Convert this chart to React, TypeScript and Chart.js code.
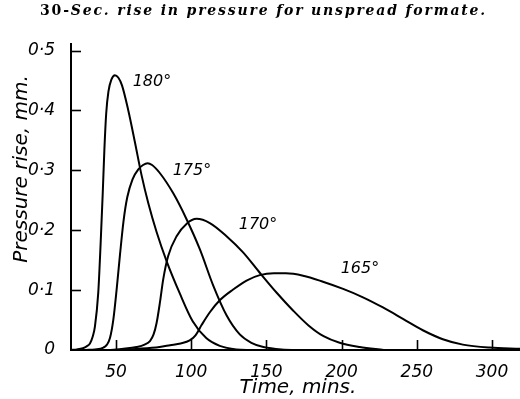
import React, { useEffect, useRef } from 'react';
import { Chart, registerables } from 'chart.js';

Chart.register(...registerables);

const TITLE_BOLD = '30-';
const TITLE_ITALIC = 'Sec. rise in pressure for unspread formate.';
const X_TITLE = 'Time, mins.';
const Y_TITLE = 'Pressure rise, mm.';

const xTickValues = [50, 100, 150, 200, 250, 300];
const xTickLabels = ['50', '100', '150', '200', '250', '300'];
const yTickValues = [0, 0.1, 0.2, 0.3, 0.4, 0.5];
const yTickLabels = ['0', '0·1', '0·2', '0·3', '0·4', '0·5'];

const seriesNames = ['180°', '175°', '170°', '165°'];

const t180 = [20, 24, 28, 30.5, 32.7, 34.5, 36, 38.2, 39.8, 41.2, 42.3, 43.5, 45, 47, 49.3, 51.5, 54, 58.2, 62.6, 67, 71.5, 77, 83.7, 92.5, 101, 110, 119, 130, 140];
const v180 = [0, 0.001, 0.003, 0.006, 0.011, 0.022, 0.039, 0.095, 0.178, 0.262, 0.335, 0.395, 0.432, 0.452, 0.459, 0.455, 0.442, 0.4, 0.347, 0.292, 0.245, 0.197, 0.148, 0.094, 0.048, 0.02, 0.007, 0.001, 0];

const t175 = [30, 36, 41.6, 44, 46, 48.2, 50.4, 52.7, 55, 57.5, 61, 65, 68, 71, 74, 79, 88, 97, 105.8, 114.6, 123.5, 132.3, 140, 148, 160, 175];
const v175 = [0, 0.001, 0.004, 0.009, 0.02, 0.05, 0.1, 0.16, 0.215, 0.255, 0.285, 0.302, 0.309, 0.312, 0.309, 0.296, 0.262, 0.218, 0.168, 0.108, 0.058, 0.026, 0.012, 0.005, 0.001, 0];

const t170 = [45, 55, 63.7, 69, 72.6, 75, 77, 79.2, 81.4, 84.7, 90.3, 97, 103.6, 112.4, 123.5, 134.5, 145.6, 156.7, 167.7, 178, 188, 198.7, 212, 228];
const v170 = [0, 0.002, 0.005, 0.009, 0.015, 0.026, 0.045, 0.079, 0.118, 0.157, 0.19, 0.211, 0.219, 0.212, 0.19, 0.163, 0.129, 0.096, 0.066, 0.041, 0.023, 0.012, 0.005, 0];

const t165 = [50, 65, 79, 86, 93, 99, 103, 107, 112.4, 119, 127.9, 136.8, 145.6, 155, 163, 174.4, 187.6, 201, 214.2, 227.5, 240.8, 254, 267.3, 280.6, 298.3, 318.6];
const v165 = [0, 0.002, 0.005, 0.008, 0.011, 0.016, 0.025, 0.042, 0.063, 0.083, 0.101, 0.116, 0.125, 0.128, 0.128, 0.124, 0.114, 0.102, 0.088, 0.071, 0.052, 0.033, 0.018, 0.009, 0.004, 0.002];

const labelT = [73.9, 100.5, 144.4, 212.2];
const labelV = [0.447, 0.299, 0.209, 0.135];

const seriesT = [t180, t175, t170, t165];
const seriesV = [v180, v175, v170, v165];

const decorPlugin = {
  id: 'decor',
  afterDraw(chart: any) {
    const { ctx, chartArea, scales } = chart;
    const xs = scales.x;
    const ys = scales.y;
    ctx.save();
    ctx.strokeStyle = '#000';
    ctx.fillStyle = '#000';
    ctx.lineWidth = 1.6;
    // inward tick marks
    yTickValues.forEach((v) => {
      if (v === 0) return;
      const y = Math.round(ys.getPixelForValue(v)) + 0.5;
      ctx.beginPath();
      ctx.moveTo(chartArea.left, y);
      ctx.lineTo(chartArea.left + 10, y);
      ctx.stroke();
    });
    xTickValues.forEach((v) => {
      const x = Math.round(xs.getPixelForValue(v)) + 0.5;
      ctx.beginPath();
      ctx.moveTo(x, chartArea.bottom);
      ctx.lineTo(x, chartArea.bottom - 10);
      ctx.stroke();
    });
    // curve labels
    ctx.font = 'italic 16px "DejaVu Sans"';
    ctx.textAlign = 'center';
    ctx.textBaseline = 'middle';
    seriesNames.forEach((n, i) => {
      ctx.fillText(n, xs.getPixelForValue(labelT[i]), ys.getPixelForValue(labelV[i]));
    });
    // y title
    ctx.save();
    ctx.translate(22, chartArea.top + 125);
    ctx.rotate(-Math.PI / 2);
    ctx.font = 'italic 20px "DejaVu Sans"';
    ctx.textAlign = 'center';
    ctx.textBaseline = 'middle';
    ctx.fillText(Y_TITLE, 0, 0);
    ctx.restore();
    // x title
    ctx.font = 'italic 20px "DejaVu Sans"';
    ctx.textAlign = 'center';
    ctx.textBaseline = 'middle';
    ctx.fillText(X_TITLE, 298, 388);
    // main title
    const fBold = 'bold 14px "DejaVu Serif"';
    const fItal = 'italic bold 14px "DejaVu Serif"';
    ctx.textAlign = 'left';
    ctx.textBaseline = 'alphabetic';
    ctx.font = fBold;
    const w1 = ctx.measureText(TITLE_BOLD).width;
    ctx.font = fItal;
    const w2 = ctx.measureText(TITLE_ITALIC).width;
    const n = TITLE_BOLD.length + TITLE_ITALIC.length;
    const targetW = 447;
    const hasLS = 'letterSpacing' in ctx;
    const spacing = hasLS ? Math.max(0, (targetW - w1 - w2) / n) : 0;
    const totalW = w1 + w2 + spacing * n;
    const startX = 263.5 - totalW / 2;
    if (hasLS) (ctx as any).letterSpacing = spacing + 'px';
    ctx.font = fBold;
    ctx.fillText(TITLE_BOLD, startX, 15);
    const adv1 = w1 + spacing * TITLE_BOLD.length;
    ctx.font = fItal;
    ctx.fillText(TITLE_ITALIC, startX + adv1, 15);
    if (hasLS) (ctx as any).letterSpacing = '0px';
    ctx.restore();
  },
};

export default function App() {
  const canvasRef = useRef<HTMLCanvasElement | null>(null);

  useEffect(() => {
    if (!canvasRef.current) return;
    const tickFont = { family: '"DejaVu Sans"', style: 'italic' as const, size: 17 };
    const chart = new Chart(canvasRef.current, {
      type: 'line',
      data: {
        datasets: seriesNames.map((name, i) => ({
          label: name,
          data: seriesT[i].map((t, j) => ({ x: t, y: seriesV[i][j] })),
          borderColor: '#000',
          backgroundColor: '#000',
          borderWidth: 2,
          pointRadius: 0,
          fill: false,
          cubicInterpolationMode: 'monotone' as const,
        })),
      },
      options: {
        responsive: false,
        animation: false,
        events: [],
        layout: { padding: { top: 44, left: 0, right: 0, bottom: 0 } },
        plugins: {
          legend: { display: false },
          tooltip: { enabled: false },
          title: { display: false },
        },
        scales: {
          x: {
            type: 'linear',
            min: 20.1,
            max: 318.6,
            grid: { display: false },
            border: { display: true, color: '#000', width: 2 },
            ticks: {
              font: tickFont,
              color: '#000',
              padding: 4,
              maxRotation: 0,
              autoSkip: false,
              callback: (v: any) => {
                const k = xTickValues.indexOf(Number(v));
                return k >= 0 ? xTickLabels[k] : '';
              },
            },
            afterBuildTicks: (s: any) => {
              s.ticks = xTickValues.map((v) => ({ value: v }));
            },
            afterFit: (s: any) => {
              s.height = 49;
            },
          },
          y: {
            type: 'linear',
            min: 0,
            max: 0.511,
            grid: { display: false },
            border: { display: true, color: '#000', width: 2 },
            ticks: {
              font: tickFont,
              color: '#000',
              padding: 8,
              autoSkip: false,
              callback: (v: any) => {
                const k = yTickValues.findIndex((y) => Math.abs(y - Number(v)) < 1e-6);
                return k >= 0 ? yTickLabels[k] : '';
              },
            },
            afterBuildTicks: (s: any) => {
              s.ticks = yTickValues.map((v) => ({ value: v }));
            },
            afterFit: (s: any) => {
              s.width = 71;
            },
          },
        },
      },
      plugins: [decorPlugin],
    });
    return () => chart.destroy();
  }, []);

  return (
    <div style={{ position: 'fixed', left: 0, top: 0, width: 520, height: 399, background: '#fff' }}>
      <canvas ref={canvasRef} width={520} height={399} style={{ display: 'block' }} />
    </div>
  );
}
